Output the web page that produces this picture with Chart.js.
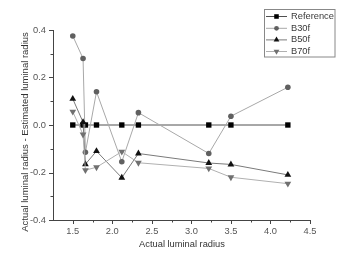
<!DOCTYPE html>
<html>
<head>
<meta charset="utf-8">
<script src="https://cdn.jsdelivr.net/npm/chart.js@4.4.1/dist/chart.umd.min.js"></script>
<style>
html,body{margin:0;padding:0;background:#fff;}
#wrap{width:357px;height:255px;position:relative;}
</style>
</head>
<body>
<div id="wrap"><canvas id="c" width="357" height="255"></canvas></div>
<script>
// ---- data ----
const xValues = [1.5, 1.63, 1.66, 1.8, 2.12, 2.33, 3.22, 3.5, 4.22];
const seriesNames = ["Reference", "B30f", "B50f", "B70f"];
const refValues  = [0, 0, 0, 0, 0, 0, 0, 0, 0];
const b30fValues = [0.375, 0.28, -0.115, 0.14, -0.155, 0.052, -0.12, 0.037, 0.159];
const b50fValues = [0.11, 0.012, -0.165, -0.11, -0.222, -0.12, -0.16, -0.166, -0.21];
const b70fValues = [0.056, -0.04, -0.19, -0.178, -0.112, -0.159, -0.183, -0.22, -0.247];
const xTickLabels = [1.5, 2.0, 2.5, 3.0, 3.5, 4.0, 4.5];
const xMinorTicks = [1.75, 2.25, 2.75, 3.25, 3.75, 4.25];
const yTickLabels = [-0.4, -0.2, 0.0, 0.2, 0.4];
const yMinorTicks = [-0.3, -0.1, 0.1, 0.3];
const xTitle = "Actual luminal radius";
const yTitle = "Actual luminal radius - Estimated luminal radius";

const toPts = vals => xValues.map((x, i) => ({x: x, y: vals[i]}));

const styles = [
  {line: '#505050', fill: '#000000', pointStyle: 'rect', r: 3.8, rot: 0},
  {line: '#a8a8a8', fill: '#606060', pointStyle: 'circle', r: 2.8, rot: 0},
  {line: '#7a7a7a', fill: '#111111', pointStyle: 'triangle', r: 3.9, rot: 0},
  {line: '#b0b0b0', fill: '#707070', pointStyle: 'triangle', r: 3.9, rot: 180}
];
const allVals = [refValues, b30fValues, b50fValues, b70fValues];

const datasets = seriesNames.map((name, i) => ({
  label: name,
  data: toPts(allVals[i]),
  showLine: true,
  borderColor: styles[i].line,
  borderWidth: 1,
  pointStyle: styles[i].pointStyle,
  pointRadius: styles[i].r,
  pointHoverRadius: styles[i].r,
  pointRotation: styles[i].rot,
  pointBackgroundColor: styles[i].fill,
  pointBorderColor: styles[i].fill,
  pointBorderWidth: 0,
  tension: 0,
  order: seriesNames.length - i
}));

const FONT = '"Liberation Sans", Arial, sans-serif';
const axisColor = '#444';

const decor = {
  id: 'decor',
  afterDraw(chart) {
    const ctx = chart.ctx;
    const xs = chart.scales.x, ys = chart.scales.y;
    const ca = chart.chartArea;
    ctx.save();
    ctx.strokeStyle = axisColor;
    ctx.lineWidth = 1;
    ctx.beginPath();
    xTickLabels.forEach(v => { const p = Math.round(xs.getPixelForValue(v)) + 0.5; ctx.moveTo(p, ca.bottom); ctx.lineTo(p, ca.bottom + 4); });
    xMinorTicks.forEach(v => { const p = Math.round(xs.getPixelForValue(v)) + 0.5; ctx.moveTo(p, ca.bottom); ctx.lineTo(p, ca.bottom + 2.5); });
    yTickLabels.forEach(v => { const p = Math.round(ys.getPixelForValue(v)) + 0.5; ctx.moveTo(ca.left, p); ctx.lineTo(ca.left - 4, p); });
    yMinorTicks.forEach(v => { const p = Math.round(ys.getPixelForValue(v)) + 0.5; ctx.moveTo(ca.left, p); ctx.lineTo(ca.left - 2.5, p); });
    ctx.stroke();

    // titles
    ctx.fillStyle = '#333';
    ctx.font = '9.3px ' + FONT;
    ctx.textAlign = 'center';
    ctx.textBaseline = 'middle';
    ctx.fillText(xTitle, 182, 244.5);
    ctx.save();
    ctx.translate(25, 132);
    ctx.rotate(-Math.PI / 2);
    ctx.font = '9.5px ' + FONT;
    ctx.fillText(yTitle, 0, 0);
    ctx.restore();

    // legend
    const bx = 264.5, by = 9.5, bw = 70.5, bh = 47.5;
    ctx.fillStyle = '#fff';
    ctx.fillRect(bx, by, bw, bh);
    ctx.strokeStyle = '#888';
    ctx.strokeRect(bx, by, bw, bh);
    ctx.font = '9.3px ' + FONT;
    ctx.textAlign = 'left';
    ctx.textBaseline = 'middle';
    const rowY = [16, 27.8, 39.4, 51];
    chart.data.datasets.forEach((ds, i) => {
      const y = rowY[i];
      ctx.strokeStyle = ds.borderColor;
      ctx.lineWidth = 1;
      ctx.beginPath();
      ctx.moveTo(266, y + 0.5); ctx.lineTo(287, y + 0.5);
      ctx.stroke();
      ctx.fillStyle = ds.pointBackgroundColor;
      ctx.strokeStyle = ds.pointBackgroundColor;
      Chart.helpers.drawPoint(ctx, {
        pointStyle: ds.pointStyle, radius: ds.pointRadius * 0.85, rotation: ds.pointRotation, borderWidth: 0
      }, 276.5, y + 0.5);
      ctx.fillStyle = '#3a3a3a';
      ctx.fillText(ds.label, 291, y + 0.5);
    });
    ctx.restore();
  }
};

Chart.defaults.font.family = FONT;

new Chart(document.getElementById('c'), {
  type: 'scatter',
  data: { datasets },
  options: {
    responsive: false,
    animation: false,
    devicePixelRatio: 1,
    layout: { padding: { top: 30, right: 47, left: 0, bottom: 0 } },
    plugins: { legend: { display: false }, tooltip: { enabled: false } },
    scales: {
      x: {
        type: 'linear',
        min: 1.25, max: 4.5,
        afterFit(s) { s.height = 35; },
        afterBuildTicks(s) { s.ticks = xTickLabels.map(v => ({value: v})); },
        grid: { display: false, drawTicks: false },
        border: { display: true, color: axisColor, width: 1 },
        ticks: { padding: 6, color: '#555', font: { size: 9.3 }, maxRotation: 0, autoSkip: false,
                 callback: v => Number(v).toFixed(1) }
      },
      y: {
        type: 'linear',
        min: -0.4, max: 0.4,
        afterFit(s) { s.width = 53; },
        afterBuildTicks(s) { s.ticks = yTickLabels.map(v => ({value: v})); },
        grid: { display: false, drawTicks: false },
        border: { display: true, color: axisColor, width: 1 },
        ticks: { padding: 7, color: '#555', font: { size: 9.3 }, autoSkip: false,
                 callback: v => Number(v).toFixed(1) }
      }
    }
  },
  plugins: [decor]
});
</script>
</body>
</html>
